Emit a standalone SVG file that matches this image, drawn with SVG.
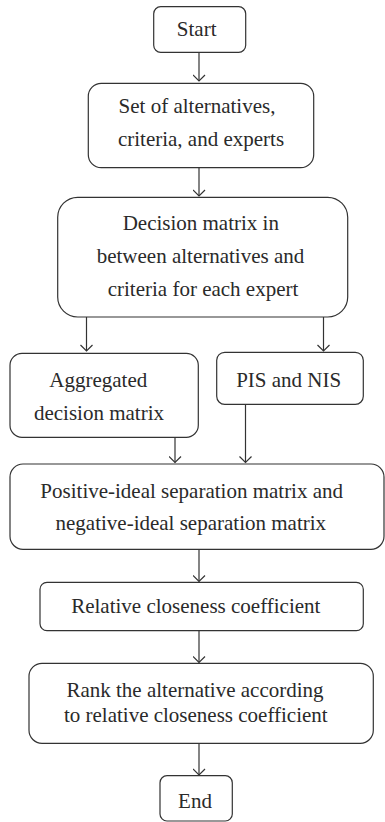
<svg xmlns="http://www.w3.org/2000/svg" width="385" height="822" viewBox="0 0 385 822">
<style>
.box{fill:#fff;stroke:#333;stroke-width:1.2}
.t{font-family:"Liberation Serif","Times New Roman",serif;font-size:21px;fill:#2a2a2a;text-anchor:middle}
.c{stroke:#333;stroke-width:1.2;fill:none}
</style>
<defs>
<marker id="ah" viewBox="0 0 8 13" refX="7" refY="6.5" markerWidth="8" markerHeight="13" markerUnits="userSpaceOnUse" orient="auto">
<path d="M1,0.5 L7,6.5 L1,12.5" fill="none" stroke="#333" stroke-width="1.2"/>
</marker>
</defs>
<rect width="385" height="822" fill="#fff"/>
<g id="connectors">
<line class="c" x1="199" y1="52" x2="199" y2="81" marker-end="url(#ah)"/>
<line class="c" x1="199" y1="168" x2="199" y2="196" marker-end="url(#ah)"/>
<line class="c" x1="86.5" y1="317" x2="86.5" y2="351" marker-end="url(#ah)"/>
<line class="c" x1="323.5" y1="317" x2="323.5" y2="351" marker-end="url(#ah)"/>
<line class="c" x1="175" y1="437" x2="175" y2="462.5" marker-end="url(#ah)"/>
<line class="c" x1="245.5" y1="404" x2="245.5" y2="462.5" marker-end="url(#ah)"/>
<line class="c" x1="199" y1="549" x2="199" y2="581.5" marker-end="url(#ah)"/>
<line class="c" x1="199" y1="631" x2="199" y2="662.5" marker-end="url(#ah)"/>
<line class="c" x1="199" y1="743" x2="199" y2="775" marker-end="url(#ah)"/>
</g>
<g id="start">
<rect class="box" x="153.7" y="6.7" width="92" height="45.6" rx="7"/>
<text class="t" x="196.7" y="36">Start</text>
</g>
<g id="set">
<rect class="box" x="88.3" y="83.3" width="225.4" height="84.4" rx="13"/>
<text class="t" x="197" y="113">Set of alternatives,</text>
<text class="t" x="201" y="146">criteria, and experts</text>
</g>
<g id="decision">
<rect class="box" x="57.7" y="197.3" width="290" height="119.7" rx="20"/>
<text class="t" x="200.8" y="230">Decision matrix in</text>
<text class="t" x="200.5" y="262.7">between alternatives and</text>
<text class="t" x="203" y="296">criteria for each expert</text>
</g>
<g id="aggregated">
<rect class="box" x="10" y="353.3" width="188.3" height="84" rx="12"/>
<text class="t" x="98.3" y="386.7">Aggregated</text>
<text class="t" x="99" y="420">decision matrix</text>
</g>
<g id="pisnis">
<rect class="box" x="216.7" y="352.3" width="146.6" height="52" rx="8"/>
<text class="t" x="288.7" y="387.3">PIS and NIS</text>
</g>
<g id="separation">
<rect class="box" x="10" y="464" width="374" height="85.3" rx="13"/>
<text class="t" x="191.7" y="498.3">Positive-ideal separation matrix and</text>
<text class="t" x="190.8" y="530">negative-ideal separation matrix</text>
</g>
<g id="relative">
<rect class="box" x="40" y="582.3" width="323.3" height="48.4" rx="7"/>
<text class="t" x="195.8" y="613.3">Relative closeness coefficient</text>
</g>
<g id="rank">
<rect class="box" x="29" y="663.3" width="344.3" height="80" rx="13"/>
<text class="t" x="195" y="696.7">Rank the alternative according</text>
<text class="t" x="195.8" y="721.7">to relative closeness coefficient</text>
</g>
<g id="end">
<rect class="box" x="160" y="775.7" width="72.3" height="45.3" rx="7"/>
<text class="t" x="195" y="808.3">End</text>
</g>
</svg>
